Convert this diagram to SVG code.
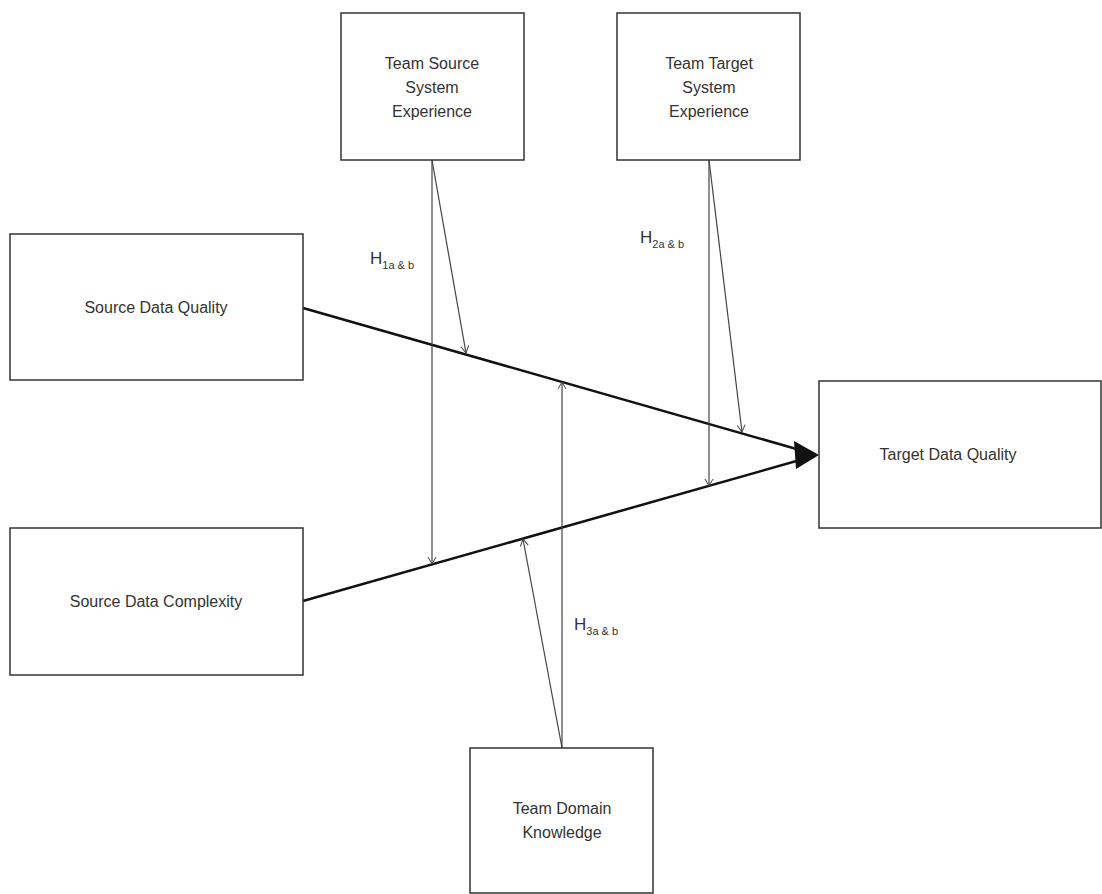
<svg xmlns="http://www.w3.org/2000/svg" width="1102" height="894" viewBox="0 0 1102 894">
<defs>
<style>
.box{fill:#fff;stroke:#333;stroke-width:1.5}
.t{font-family:"Liberation Sans",Arial,sans-serif;font-size:16px;fill:#333;text-anchor:middle}
.h{font-family:"Liberation Sans",Arial,sans-serif;font-size:17px;fill:#333}
.s{font-size:11px}
.thick{stroke:#111;stroke-width:2.5;fill:none}
.thin{stroke:#444;stroke-width:1.2;fill:none}
</style>
<marker id="open" markerWidth="10" markerHeight="10" refX="8" refY="5" orient="auto" markerUnits="userSpaceOnUse">
<path d="M1,1 L8,5 L1,9" fill="none" stroke="#444" stroke-width="1"/>
</marker>
</defs>
<rect width="1102" height="894" fill="#fff"/>
<g id="connectors">
<line class="thick" x1="303" y1="308" x2="800" y2="450"/>
<line class="thick" x1="303" y1="601" x2="800" y2="460"/>
<polygon points="819,455 794,441 796,469" fill="#111"/>
<line class="thin" x1="432" y1="160" x2="432" y2="564" marker-end="url(#open)"/>
<line class="thin" x1="432" y1="160" x2="466" y2="353" marker-end="url(#open)"/>
<line class="thin" x1="709" y1="160" x2="709" y2="486" marker-end="url(#open)"/>
<line class="thin" x1="709" y1="160" x2="742" y2="432" marker-end="url(#open)"/>
<line class="thin" x1="562" y1="748" x2="562" y2="382" marker-end="url(#open)"/>
<line class="thin" x1="562" y1="748" x2="523" y2="539" marker-end="url(#open)"/>
<text class="h" x="370" y="264">H<tspan class="s" dy="5">1a &amp; b</tspan></text>
<text class="h" x="640" y="243">H<tspan class="s" dy="5">2a &amp; b</tspan></text>
<text class="h" x="574" y="630">H<tspan class="s" dy="5">3a &amp; b</tspan></text>
</g>
<g id="team-source">
<rect class="box" x="341" y="13" width="183" height="147"/>
<text class="t" x="432" y="69">Team Source</text>
<text class="t" x="432" y="93">System</text>
<text class="t" x="432" y="117">Experience</text>
</g>
<g id="team-target">
<rect class="box" x="617" y="13" width="183" height="147"/>
<text class="t" x="709" y="69">Team Target</text>
<text class="t" x="709" y="93">System</text>
<text class="t" x="709" y="117">Experience</text>
</g>
<g id="source-quality">
<rect class="box" x="10" y="234" width="293" height="146"/>
<text class="t" x="156" y="313">Source Data Quality</text>
</g>
<g id="source-complexity">
<rect class="box" x="10" y="528" width="293" height="147"/>
<text class="t" x="156" y="607">Source Data Complexity</text>
</g>
<g id="target-quality">
<rect class="box" x="819" y="381" width="282" height="147"/>
<text class="t" x="948" y="460">Target Data Quality</text>
</g>
<g id="team-domain">
<rect class="box" x="470" y="748" width="183" height="145"/>
<text class="t" x="562" y="814">Team Domain</text>
<text class="t" x="562" y="838">Knowledge</text>
</g>
</svg>
